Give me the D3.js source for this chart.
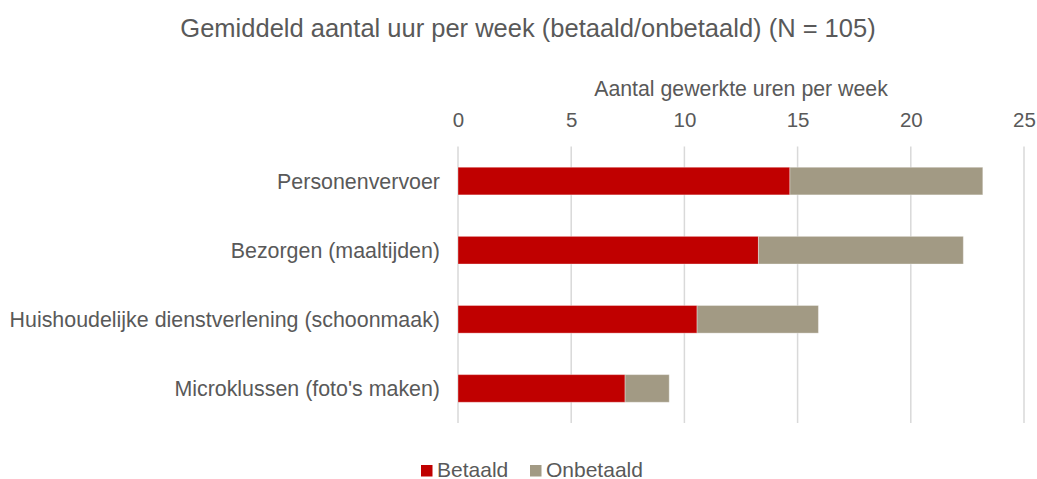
<!DOCTYPE html>
<html><head><meta charset="utf-8">
<script src="https://cdn.jsdelivr.net/npm/d3@7"></script>
<style>body{margin:0;background:#fff;} text{font-family:"Liberation Sans",Arial,sans-serif;fill:#595959;}</style>
</head><body><svg id="c" width="1037" height="479"></svg>
<script>
const categories = ["Personenvervoer","Bezorgen (maaltijden)","Huishoudelijke dienstverlening (schoonmaak)","Microklussen (foto's maken)"];
const betaald = [14.66, 13.27, 10.56, 7.38];
const onbetaald = [8.52, 9.05, 5.36, 1.95];
const ticks = [0,5,10,15,20,25];
const seriesNames = ["Betaald","Onbetaald"];
const colors = ["#C00000","#A29A84"];

const svg = d3.select("#c");
const x = d3.scaleLinear().domain([0,25]).range([458,1024]);
const y = d3.scaleBand().domain(categories).range([146.5,423]).paddingInner(0.6).paddingOuter(0.3);

svg.append("text").attr("x",528).attr("y",37).attr("text-anchor","middle").style("font-size","25.5px")
  .text("Gemiddeld aantal uur per week (betaald/onbetaald) (N = 105)");
svg.append("text").attr("x",741).attr("y",96).attr("text-anchor","middle").style("font-size","21.3px")
  .text("Aantal gewerkte uren per week");

// gridlines
svg.append("g").selectAll("line").data(ticks).join("line")
  .attr("x1",d=>x(d)).attr("x2",d=>x(d)).attr("y1",146.5).attr("y2",423)
  .attr("stroke","#d9d9d9").attr("stroke-width",1.5);

const ax = svg.append("g").attr("transform","translate(0,127)")
  .call(d3.axisTop(x).tickValues(ticks).tickSize(0).tickPadding(0));
ax.select(".domain").remove();
ax.selectAll("text").style("font-size","20.5px").attr("fill","#595959").attr("dy","0");

const stacked = d3.stack().keys([0,1])(categories.map((c,i)=>({cat:c,0:betaald[i],1:onbetaald[i]})));
svg.append("g").selectAll("g").data(stacked).join("g").attr("fill",(d,i)=>colors[i])
  .selectAll("rect").data(d=>d).join("rect")
  .attr("x",d=>x(d[0])).attr("width",d=>x(d[1])-x(d[0]))
  .attr("y",d=>y(d.data.cat)).attr("height",y.bandwidth())
  .attr("stroke","rgba(255,255,255,0.35)").attr("stroke-width",1);

const ay = svg.append("g").attr("transform","translate(440,0)")
  .call(d3.axisLeft(y).tickSize(0).tickPadding(0));
ay.select(".domain").remove();
ay.selectAll("text").style("font-size","21.4px").attr("fill","#595959").attr("dy","0.36em");

const legX = [421, 530];
const lg = svg.append("g");
seriesNames.forEach((n,i)=>{
  lg.append("rect").attr("x",legX[i]).attr("y",465).attr("width",11.5).attr("height",11.5).attr("fill",colors[i]);
  lg.append("text").attr("x",legX[i]+16).attr("y",476.5).style("font-size","21px").text(n);
});
</script></body></html>
